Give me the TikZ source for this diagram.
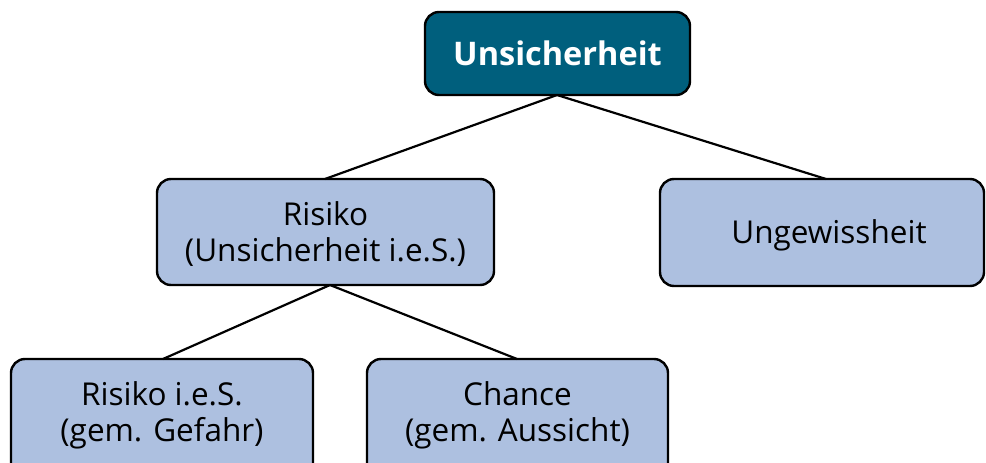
\documentclass[tikz,border=0pt]{standalone}
\usepackage{fontspec}
\setmainfont{Open Sans}
\definecolor{topfill}{HTML}{005F7D}
\definecolor{boxfill}{HTML}{ADC0E0}
\begin{document}
\begin{tikzpicture}[x=1pt,y=-1pt,
  box/.style={draw=black, line width=2.4pt, rounded corners=14pt, fill=boxfill},
  toptext/.style={font=\fontsize{32.5}{38}\selectfont\bfseries, text=white},
  boxtext/.style={font=\fontsize{31.5}{36}\selectfont, align=center, text=black},
  link/.style={line width=2.2pt, black}]
\useasboundingbox (0,0) rectangle (986,463);
\clip (0,0) rectangle (986,463);
% box outlines (bottom row runs past the lower edge)
\path[box, fill=topfill] (425,12) rectangle (690,95);
\path[box] (157,179) rectangle (494,285);
\path[box] (660,179) rectangle (984,286);
\path[box] (11,359) rectangle (313,490);
\path[box] (367,359) rectangle (668,490);
% anchor points for the connectors
\coordinate (topB) at (557,95);
\coordinate (risT) at (325,179);
\coordinate (ungT) at (826,179);
\coordinate (risB) at (330,285);
\coordinate (lefT) at (163,359);
\coordinate (chaT) at (517,359);
\draw[link] (topB) -- (risT);
\draw[link] (topB) -- (ungT);
\draw[link] (risB) -- (lefT);
\draw[link] (risB) -- (chaT);
% labels
\node[toptext] (top) at (557.5,53) {Unsicherheit};
\node[boxtext] (ris) at (325.5,234) {Risiko\\(Unsicherheit i.e.S.)};
\node[boxtext] (ung) at (829,235) {Ungewissheit};
\node[boxtext] (lef) at (162,415) {Risiko i.e.S.\\(gem. Gefahr)};
\node[boxtext] (cha) at (517.5,415) {Chance\\(gem. Aussicht)};
\end{tikzpicture}
\end{document}
